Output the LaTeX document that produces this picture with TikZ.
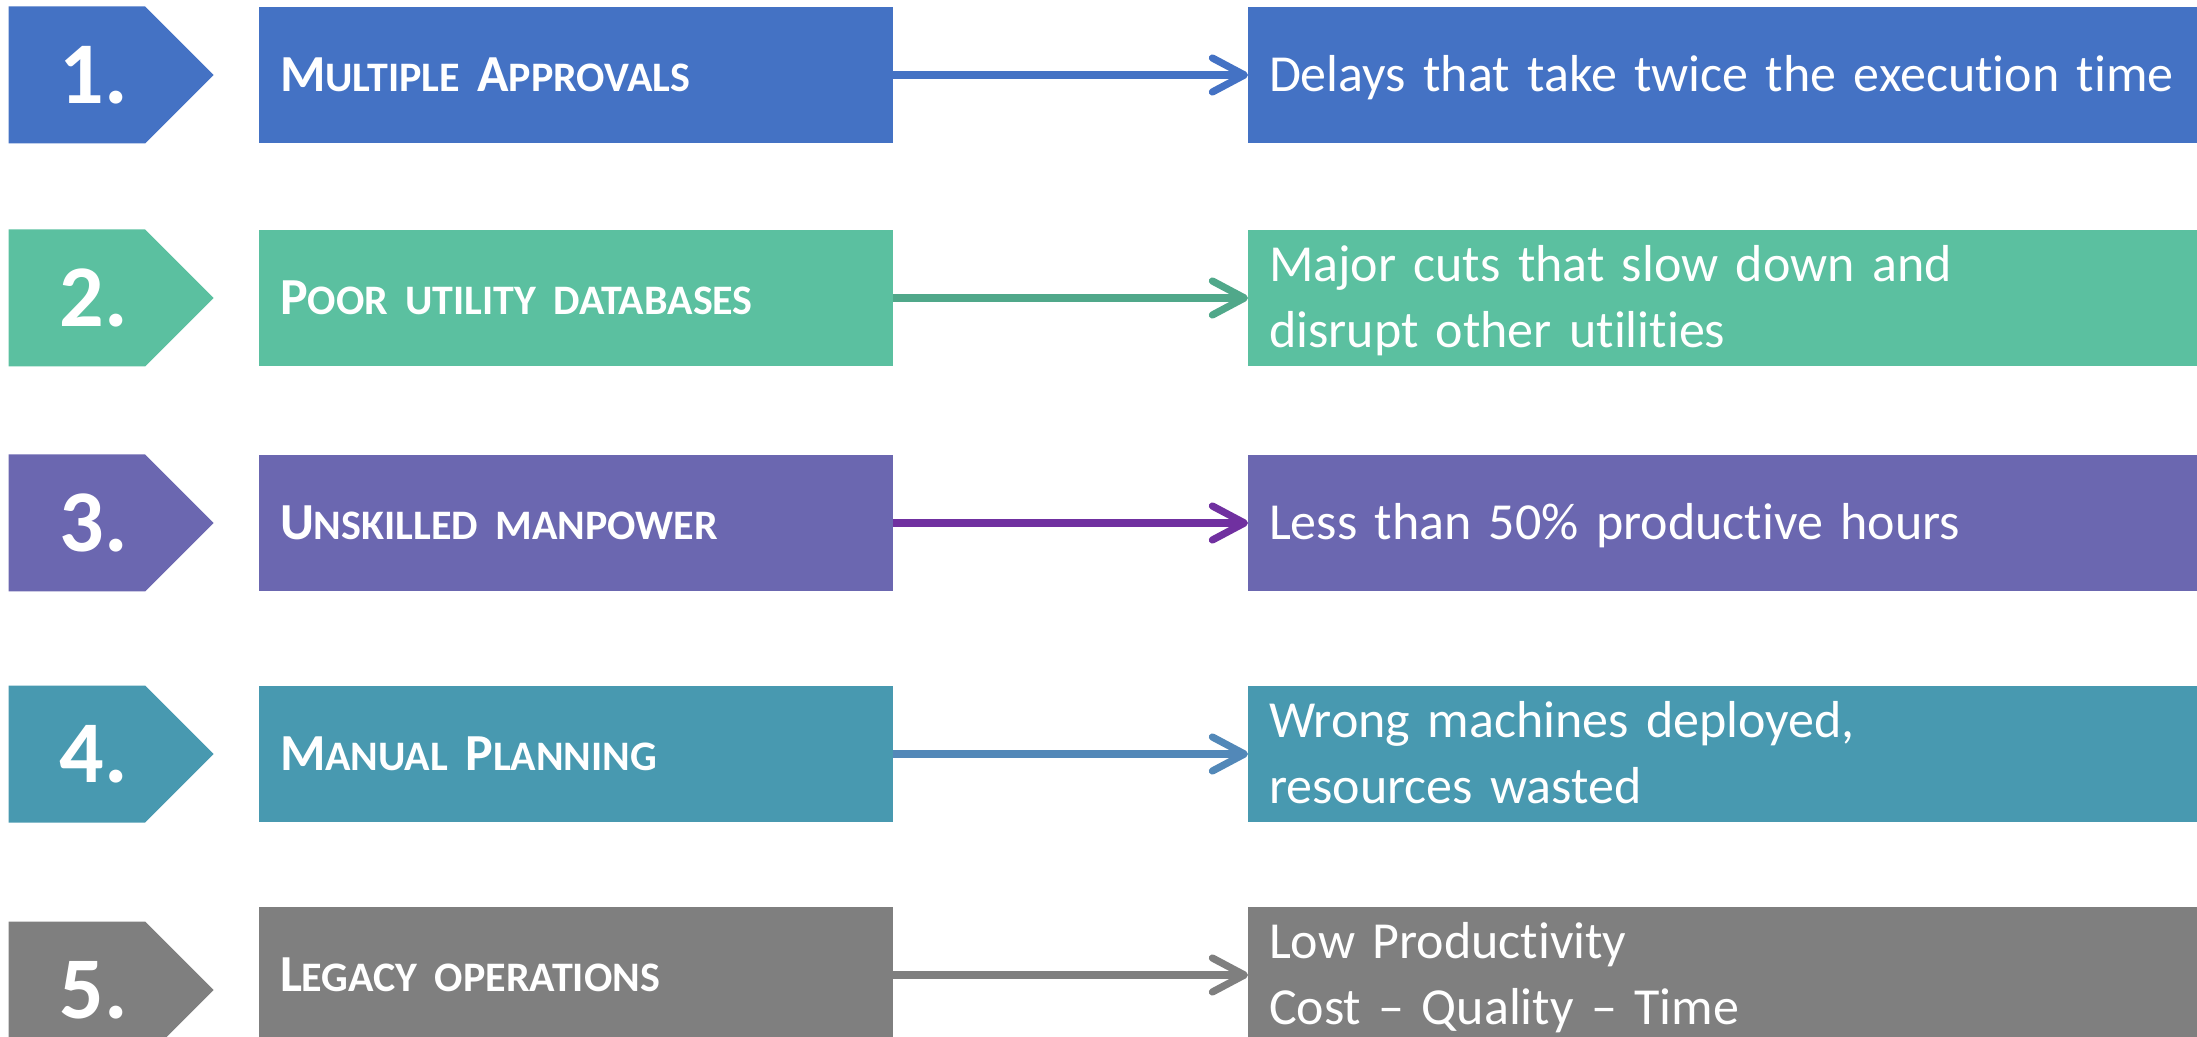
\documentclass[tikz,border=0pt]{standalone}
\usepackage{fontspec}
\setmainfont{Carlito}[Ligatures=NoCommon]
\usetikzlibrary{arrows.meta}
\usetikzlibrary{shapes.symbols}

\definecolor{rowblue}{HTML}{4472C4}
\definecolor{rowgreen}{HTML}{5BC0A0}
\definecolor{rowpurple}{HTML}{6B67B0}
\definecolor{rowteal}{HTML}{4899B0}
\definecolor{rowgrey}{HTML}{7F7F7F}
\definecolor{arrowgreen}{HTML}{50A88A}
\definecolor{arrowpurple}{HTML}{7030A0}
\definecolor{arrowteal}{HTML}{5288B8}

\newcommand{\smc}[1]{{\fontsize{21pt}{24pt}\selectfont #1}}

\tikzset{
  numtag/.style={signal, signal to=east, signal pointer angle=90,
    minimum width=102.5pt, minimum height=68.5pt, inner sep=0pt, outer sep=0pt,
    anchor=west, text=white, font=\fontsize{44pt}{48pt}\selectfont\bfseries,
    execute at begin node=\hspace*{17pt}},
  cause/.style={rectangle, anchor=west, minimum height=68pt, text width=296pt,
    inner xsep=10.5pt, inner ysep=0pt, outer sep=0pt, align=left, text=white,
    text height=16.5pt, text depth=0pt,
    font=\fontsize{26pt}{33pt}\selectfont\bfseries},
  effect/.style={rectangle, anchor=west, minimum height=68pt, text width=455pt,
    inner xsep=10.5pt, inner ysep=0pt, outer sep=0pt, align=left, text=white,
    text height=16.5pt, text depth=0pt,
    font=\fontsize{26pt}{33pt}\selectfont},
  twolines/.style={text depth=33pt},
  link/.style={line width=3.6pt, -{Straight Barb[length=16pt,width=17pt,round]}},
}

\begin{document}
\begin{tikzpicture}[x=0.5pt, y=-0.5pt]
		\useasboundingbox (0,0) rectangle (2197,1037);
		% numbers
		\node[numtag, fill=rowblue]   (num1) at (8.6,75)  {1.};
		\node[numtag, fill=rowgreen]  (num2) at (8.6,298) {2.};
		\node[numtag, fill=rowpurple] (num3) at (8.6,523) {3.};
		\node[numtag, fill=rowteal]   (num4) at (8.6,754) {4.};
		\node[numtag, fill=rowgrey]   (num5) at (8.6,990) {5.};
		
		% causes
		\node[cause, fill=rowblue]   (cause1) at (259,75)  {M\smc{ULTIPLE} A\smc{PPROVALS}};
		\node[cause, fill=rowgreen]  (cause2) at (259,298) {P\smc{OOR UTILITY DATABASES}};
		\node[cause, fill=rowpurple] (cause3) at (259,523) {U\smc{NSKILLED MANPOWER}};
		\node[cause, fill=rowteal]   (cause4) at (259,754) {M\smc{ANUAL} P\smc{LANNING}};
		\node[cause, fill=rowgrey]   (cause5) at (259,975) {L\smc{EGACY OPERATIONS}};
		
		% effects
		\node[effect, fill=rowblue]   (effect1) at (1248,75)  {Delays that take twice the execution time};
		\node[effect, twolines, fill=rowgreen]  (effect2) at (1248,298) {Major cuts that slow down and\\disrupt other utilities};
		\node[effect, fill=rowpurple] (effect3) at (1248,523) {Less than 50\% productive hours};
		\node[effect, twolines, fill=rowteal]   (effect4) at (1248,754) {Wrong machines deployed,\\resources wasted};
		\node[effect, twolines, fill=rowgrey]   (effect5) at (1248,975) {Low Productivity\\Cost -- Quality -- Time};
		
		\draw[link, rowblue]     (cause1) -- (effect1);
		\draw[link, arrowgreen]  (cause2) -- (effect2);
		\draw[link, arrowpurple] (cause3) -- (effect3);
		\draw[link, arrowteal]   (cause4) -- (effect4);
		\draw[link, rowgrey]     (cause5) -- (effect5);
\end{tikzpicture}
\end{document}
